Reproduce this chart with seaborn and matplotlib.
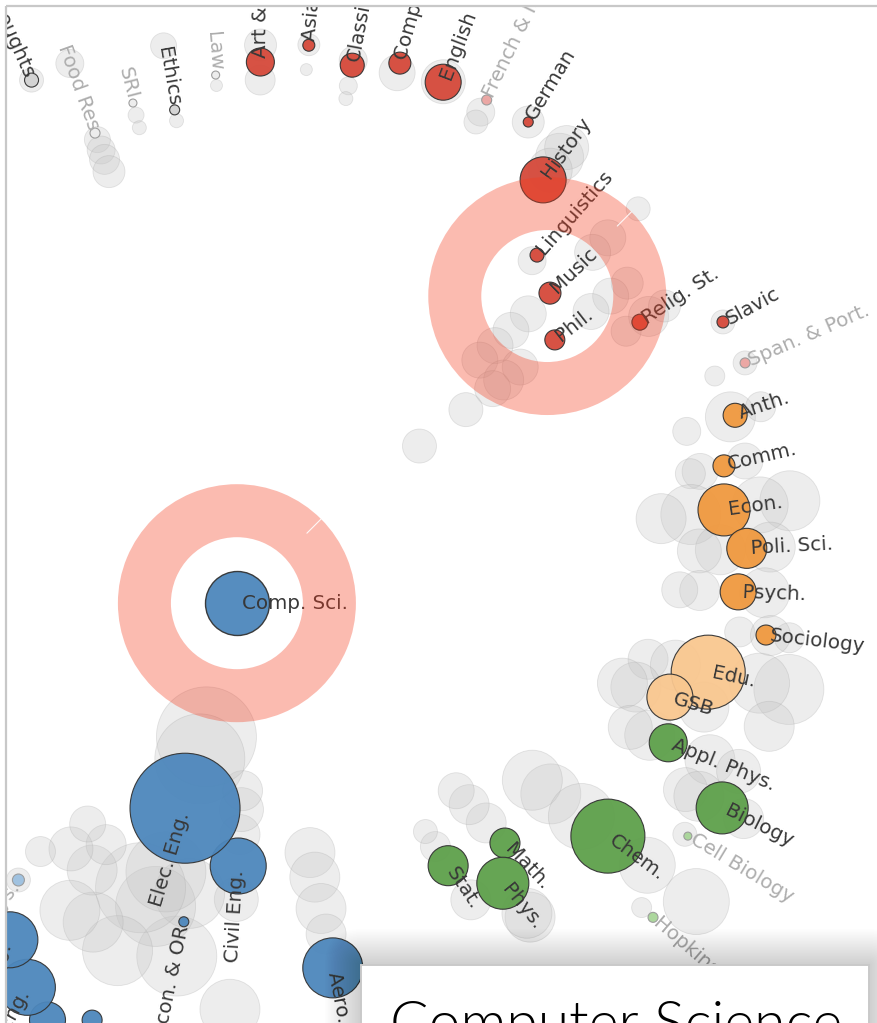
import numpy as np
import pandas as pd
import matplotlib
matplotlib.use("Agg")
import matplotlib.pyplot as plt
import seaborn as sns
from matplotlib.patches import Wedge, Rectangle, FancyBboxPatch

sns.set_theme(style="white")
plt.rcParams["font.family"] = ["DejaVu Sans"]

# ---------------------------------------------------------------- data
# Departments placed around the selected one: angle (deg), distance, size.
dept_names = [
    "Mod. Thoughts", "Food Res", "SRI", "Ethics", "Law",
    "Art & Art Hist.", "Asian Lang.", "Classics", "Comp. Lit.", "English",
    "French & Ital.", "German", "History", "Linguistics", "Music", "Phil.",
    "Relig. St.", "Slavic", "Span. & Port.",
    "Anth.", "Comm.", "Econ.", "Poli. Sci.", "Psych.", "Sociology",
    "Edu.", "GSB",
    "Appl. Phys.", "Biology", "Cell Biology", "Chem.", "Hopkins Marine",
    "Math.", "Phys.", "Stat.",
    "Aero. & Astro.", "Civil Eng.", "Econ. & OR", "Elec. Eng.",
    "Mgmt. Sci. & Eng.", "Mat. Sci. & Eng.", "Mech. Eng.", "Chem. Eng.",
    "Biophys.",
]
dept_field = (
    ["Other"] * 5
    + ["Humanities"] * 14
    + ["Social Sciences"] * 6
    + ["Professional Schools"] * 2
    + ["Natural Sciences"] * 8
    + ["Engineering"] * 9
)
dept_angle = [
    114.3, 109.9, 104.5, 99.8, 94.5,
    89.4, 84.2, 79.2, 74.2, 69.1,
    64.0, 58.9, 53.9, 48.6, 43.7, 38.1,
    33.3, 28.4, 23.4,
    18.4, 13.1, 7.9, 3.1, -2.0, -6.7,
    -12.1, -16.4,
    -22.1, -26.5, -31.1, -36.5, -40.7,
    -47.0, -51.2, -56.4,
    -78.8, -93.3, -101.6, -106.7,
    -110.1, -115.0, -118.9, -123.9,
    -127.8,
]
dept_dist = [
    1.086, 0.940, 0.975, 0.944, 1.003,
    1.026, 1.065, 1.038, 1.064, 1.055,
    1.057, 1.058, 0.978, 0.853, 0.816, 0.762,
    0.921, 1.064, 1.068,
    1.012, 0.963, 0.947, 0.985, 0.967, 1.029,
    0.927, 0.865,
    0.892, 1.044, 1.011, 0.878, 1.050,
    0.733, 0.791, 0.698,
    0.801, 0.583, 0.708, 0.487,
    0.948, 0.982, 0.942, 0.879,
    0.772,
]
dept_weight = [
    49, 25, 16, 25, 16,
    196, 36, 144, 121, 324,
    25, 25, 529, 49, 121, 100,
    64, 36, 25,
    144, 121, 676, 400, 324, 100,
    1369, 529,
    361, 676, 16, 1369, 25,
    225, 676, 400,
    900, 784, 25, 3025,
    100, 324, 784, 784,
    36,
]
minor_programs = ["Food Res", "SRI", "Law", "French & Ital.", "Span. & Port.",
                  "Cell Biology", "Hopkins Marine", "Biophys."]

# The selected department sits at the centre of the layout.
selected_name = "Comp. Sci."
selected_field = "Engineering"
selected_angle = 237.3
selected_dist = 0.067
selected_weight = 1024

# Earlier positions of each department (same angle, past distances).
ghost_dept = (
    ["Mod. Thoughts"]
    + ["Food Res"] * 5 + ["SRI"] * 2 + ["Ethics"] * 2 + ["Law"]
    + ["Art & Art Hist."] * 2 + ["Asian Lang."] * 2 + ["Classics"] * 3
    + ["Comp. Lit."] + ["English"] + ["French & Ital."] * 2 + ["German"]
    + ["History"] * 3 + ["Linguistics"] + ["Music"] * 7 + ["Phil."] * 8
    + ["Relig. St."] * 3 + ["Slavic"] + ["Span. & Port."] * 2
    + ["Anth."] * 3 + ["Comm."] * 3 + ["Econ."] * 4 + ["Poli. Sci."] * 3
    + ["Psych."] * 3 + ["Sociology"] * 3 + ["Edu."] * 4 + ["GSB"] * 4
    + ["Appl. Phys."] * 4 + ["Biology"] * 3 + ["Cell Biology"]
    + ["Chem."] * 5 + ["Hopkins Marine"] + ["Math."] * 3 + ["Phys."] * 2
    + ["Stat."] * 3 + ["Aero. & Astro."] * 4 + ["Civil Eng."] * 5
    + ["Econ. & OR"] * 2 + ["Elec. Eng."] * 4 + ["Mgmt. Sci. & Eng."] * 2
    + ["Mat. Sci. & Eng."] + ["Mech. Eng."] * 3 + ["Chem. Eng."] * 2
    + ["Biophys."] * 2
)
ghost_dist = [
    1.086,
    1.088, 0.926, 0.904, 0.884, 0.858, 0.950, 0.924, 1.074, 0.922, 0.982,
    1.060, 0.990, 1.066, 1.016, 1.048, 0.996, 0.970,
    1.044, 1.056, 1.030, 1.008, 1.058,
    1.034, 1.058, 1.002, 0.838,
    1.060, 0.976, 0.934, 0.756, 0.708, 0.664, 0.622,
    0.946, 0.904, 0.854, 0.674, 0.632, 0.604, 0.536, 0.418,
    0.942, 0.888, 0.980, 1.064, 1.068, 1.002,
    1.002, 1.066, 0.910, 0.914, 1.006, 0.894,
    0.880, 0.820, 1.080, 1.020, 0.932, 1.032, 0.890,
    0.890, 1.020, 0.850, 0.976, 1.076, 1.038,
    1.092, 1.032, 0.804, 0.860, 0.794, 0.766, 0.936, 1.072,
    0.852, 0.982, 1.044, 0.810, 0.962, 0.992, 1.092, 1.004,
    0.736, 0.690, 0.812, 0.976, 1.098, 1.020,
    0.678, 0.628, 0.590, 0.878, 0.868,
    0.652, 0.616, 0.780, 0.566, 0.616, 0.680, 0.732,
    0.520, 0.470, 0.432, 0.650, 0.870,
    0.778, 0.650, 0.338, 0.384, 0.692, 0.620,
    0.666, 0.800, 0.766, 0.674, 0.616, 0.766, 0.660, 0.600,
    0.772, 0.700,
]
ghost_weight = [
    144,
    196, 169, 196, 225, 256, 64, 49, 169, 49, 36,
    256, 225, 121, 36, 196, 81, 49,
    324, 484, 196, 144, 256,
    576, 484, 484, 196,
    144, 324, 324, 324, 324, 324, 324,
    256, 324, 324, 324, 400, 324, 289, 289,
    400, 225, 256, 144, 144, 100,
    625, 225, 196, 324, 324, 225,
    900, 625, 900, 784, 625, 625, 484,
    400, 625, 324, 225, 225, 400,
    1225, 900, 400, 625, 625, 625, 625, 625,
    625, 625, 484, 484, 484, 625, 400, 144,
    900, 900, 1089, 784, 1089, 100,
    400, 400, 324, 625, 625,
    225, 144, 400, 625, 625, 625, 400,
    400, 484, 400, 484, 900,
    1600, 1225, 2500, 2025, 1600, 1600,
    2025, 1225, 900, 625, 400, 900, 484, 324,
    144, 225,
]

highlight_group = ["Linguistics", "Music", "Phil."]
card_title = "Computer Science"

field_colors = {
    "Humanities": "#d5493a",
    "Humanities minor": "#eba3a0",
    "Social Sciences": "#f0993f",
    "Professional Schools": "#f9c78f",
    "Natural Sciences": "#5ea04b",
    "Natural Sciences minor": "#a8d598",
    "Engineering": "#4d87bc",
    "Engineering minor": "#9cc0e0",
    "Other": "#d2d2d2",
    "Other minor": "#ededed",
}

# ---------------------------------------------------------------- frames
depts = pd.DataFrame({
    "name": dept_names, "field": dept_field, "angle": dept_angle,
    "dist": dept_dist, "weight": dept_weight,
})
depts["minor"] = depts["name"].isin(minor_programs)
depts["theta"] = np.deg2rad(depts["angle"])
depts["tone"] = np.where(depts["minor"], depts["field"] + " minor", depts["field"])

ghosts = pd.DataFrame({"name": ghost_dept, "dist": ghost_dist, "weight": ghost_weight})
ghosts = ghosts.merge(depts[["name", "theta"]], on="name", how="left")

sel = pd.DataFrame({
    "name": [selected_name], "tone": [selected_field],
    "theta": [np.deg2rad(selected_angle)], "dist": [selected_dist],
    "weight": [selected_weight],
})

# ---------------------------------------------------------------- figure
W, H = 877, 1023
fig = plt.figure(figsize=(W / 100, H / 100), dpi=100)

cx, cy = 255, 575          # layout centre (pixels from top-left)
unit = 500                 # pixels per distance unit
rmax = 1.75
rad = rmax * unit
ax = fig.add_axes([(cx - rad) / W, (H - cy - rad) / H, 2 * rad / W, 2 * rad / H],
                  projection="polar")
ax.set_ylim(0, rmax)

wmax = 3025
smax = (1.44 ** 2) * wmax
size_kw = dict(size="weight", sizes=(0, smax), size_norm=(0, wmax), legend=False)

sns.scatterplot(data=ghosts, x="theta", y="dist", color="#c6c6c6", alpha=0.3,
                edgecolor="#a8a8a8", linewidth=0.6, ax=ax, zorder=1, **size_kw)

major = depts[~depts["minor"]]
minor = depts[depts["minor"]]
sns.scatterplot(data=major, x="theta", y="dist", hue="tone",
                palette={k: field_colors[k] for k in major["tone"].unique()},
                edgecolor="#333333", linewidth=0.8, alpha=0.95,
                ax=ax, zorder=2, **size_kw)
sns.scatterplot(data=minor, x="theta", y="dist", hue="tone",
                palette={k: field_colors[k] for k in minor["tone"].unique()},
                edgecolor="#9a9a9a", linewidth=0.8, alpha=0.95,
                ax=ax, zorder=2, **size_kw)
sns.scatterplot(data=sel, x="theta", y="dist", hue="tone",
                palette={selected_field: field_colors[selected_field]},
                edgecolor="#333333", linewidth=1.0, alpha=0.95,
                ax=ax, zorder=2, **size_kw)
ax.set_axis_off()

# radial labels, flipped on the left half so they stay readable
label_size = 14.3
for _, row in depts.iterrows():
    a = row["angle"]
    left = 90 < (a % 360) < 270
    rot = a - 180 if left else a
    ha = "right" if left else "left"
    off = (3 * np.cos(np.deg2rad(a)), 3 * np.sin(np.deg2rad(a)))
    ax.annotate(row["name"], xy=(row["theta"], row["dist"]), xytext=off,
                textcoords="offset points", rotation=rot, rotation_mode="anchor",
                ha=ha, va="center", fontsize=label_size,
                color="#adadad" if row["minor"] else "#383838", zorder=3)
ax.annotate(selected_name, xy=(sel["theta"][0], sel["dist"][0]), xytext=(4, 0),
            textcoords="offset points", ha="left", va="center",
            fontsize=label_size, color="#383838", zorder=3)

# ---------------------------------------------------------------- overlay
ov = fig.add_axes([0, 0, 1, 1], zorder=5)
ov.set_xlim(0, W)
ov.set_ylim(H, 0)
ov.set_axis_off()
ov.patch.set_alpha(0)

to_ov = ov.transData.inverted()


def overlay_xy(theta, dist):
    disp = ax.transData.transform(np.column_stack([theta, dist]))
    return to_ov.transform(disp)


grp = depts[depts["name"].isin(highlight_group)]
ring_centres = [
    overlay_xy(sel["theta"], sel["dist"])[0],
    overlay_xy(grp["theta"], grp["dist"]).mean(axis=0),
]
for (x0, y0) in ring_centres:
    ov.add_patch(Wedge((x0, y0), 119, 0, 360, width=53,
                       facecolor="#f53c1e", edgecolor="none", alpha=0.35))
    d = np.array([np.cos(np.deg2rad(45)), -np.sin(np.deg2rad(45))])
    p1, p2 = np.array([x0, y0]) + 99 * d, np.array([x0, y0]) + 119 * d
    ov.plot([p1[0], p2[0]], [p1[1], p2[1]], color="white", lw=0.8, alpha=0.9)

# info card with a soft shadow
card_x, card_y, card_w, card_h = 361, 965, 508, 120
layers = 24
for i in range(layers):
    pad = 36 * (1 - i / layers)
    ov.add_patch(FancyBboxPatch((card_x, card_y), card_w, card_h,
                                boxstyle=f"round,pad={pad},rounding_size={pad}",
                                facecolor="black", edgecolor="none", alpha=0.008))
ov.add_patch(Rectangle((card_x, card_y), card_w, card_h, facecolor="white",
                       edgecolor="#c9c9c9", lw=1.4))
ov.text(card_x + 29, card_y + 77, card_title, fontsize=41,
        family=["Lato", "DejaVu Sans"], fontweight=300, color="#000000",
        ha="left", va="baseline")

# page frame
ov.add_patch(Rectangle((0, 0), W, 4.5, facecolor="white", edgecolor="none"))
ov.add_patch(Rectangle((0, 0), 5.5, H, facecolor="white", edgecolor="none"))
ov.plot([5.5, W], [5.5, 5.5], color="#c8c8c8", lw=1.6, solid_capstyle="butt")
ov.plot([6.0, 6.0], [5.5, H], color="#c8c8c8", lw=1.6, solid_capstyle="butt")

fig.savefig("out.png", dpi=100)
